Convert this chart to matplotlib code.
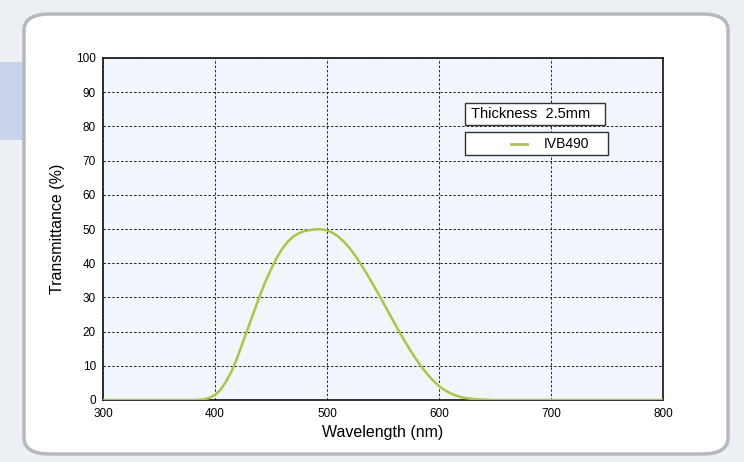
import matplotlib.pyplot as plt
from matplotlib.patches import FancyBboxPatch, Rectangle
from matplotlib.lines import Line2D

plt.rcParams["font.family"] = ["Liberation Sans", "DejaVu Sans"]

wavelength = [300, 380, 385, 390, 395, 400, 405, 410, 415, 420, 425, 430, 435, 440, 445,
              450, 455, 460, 465, 470, 475, 480, 485, 490, 495, 500, 505, 510, 515, 520,
              525, 530, 535, 540, 545, 550, 555, 560, 565, 570, 575, 580, 585, 590, 595,
              600, 605, 610, 615, 620, 625, 630, 640, 650, 700, 800]
transmittance = [0, 0, 0.05, 0.2, 0.6, 1.5, 3, 5.5, 8.5, 12.5, 17, 21.5, 26, 30.5, 34.6,
                 38.2, 41.5, 44.2, 46.3, 47.8, 48.8, 49.4, 49.7, 49.9, 49.9, 49.6, 48.9, 47.8, 46.3, 44.5,
                 42.3, 39.8, 37.2, 34.4, 31.5, 28.6, 25.6, 22.6, 19.7, 16.9, 14.2, 11.7, 9.4, 7.4, 5.6,
                 4.1, 2.9, 2.0, 1.3, 0.8, 0.5, 0.3, 0.1, 0, 0, 0]
x_ticks = [300, 400, 500, 600, 700, 800]
y_ticks = list(range(0, 101, 10))
line_color = "#a9c83f"

fig = plt.figure(figsize=(7.44, 4.62), dpi=100)
fig.patch.set_facecolor("#eceff3")

# decorative panel and side tab, behind the axes
fig.add_artist(Rectangle((0, 1 - 140 / 462), 24 / 744, 78 / 462, transform=fig.transFigure,
                         facecolor="#c9d3ea", edgecolor="none", zorder=-2))
fig.add_artist(FancyBboxPatch((24 / 744, 8 / 462), 704 / 744, 440 / 462,
                              boxstyle="round,pad=0,rounding_size=0.035",
                              transform=fig.transFigure, facecolor="white",
                              edgecolor="#b5b8bd", linewidth=2.5, zorder=-1))

ax = fig.add_axes([103 / 744, 1 - 400 / 462, 560 / 744, 342 / 462])
ax.set_facecolor("#f1f6fc")
ax.plot(wavelength, transmittance, color=line_color, linewidth=1.8, zorder=3)

ax.set_xlim(300, 800)
ax.set_ylim(0, 100)
ax.set_xticks(x_ticks)
ax.set_yticks(y_ticks)
ax.tick_params(length=0, labelsize=8.5)
ax.tick_params(axis="x", pad=6)
ax.tick_params(axis="y", pad=5)
ax.grid(True, color="#222222", linestyle=(0, (2.5, 2)), linewidth=0.7)
for spine in ax.spines.values():
    spine.set_linewidth(1.3)
    spine.set_color("#222222")

ax.set_xlabel("Wavelength (nm)", fontsize=11.5, labelpad=3)
ax.set_ylabel("Transmittance (%)", fontsize=11.5, labelpad=8)

# legend boxes
ax.add_patch(Rectangle((0.646, 0.804), 0.25, 0.064, transform=ax.transAxes,
                       facecolor="white", edgecolor="#333333", linewidth=1, zorder=4))
ax.text(0.657, 0.836, "Thickness  2.5mm", transform=ax.transAxes, fontsize=10.5,
        va="center", ha="left", zorder=5)
ax.add_patch(Rectangle((0.646, 0.715), 0.255, 0.068, transform=ax.transAxes,
                       facecolor="white", edgecolor="#333333", linewidth=1, zorder=4))
ax.add_line(Line2D([0.728, 0.757], [0.749, 0.749], transform=ax.transAxes,
                   color=line_color, linewidth=2, zorder=5))
ax.text(0.787, 0.749, "IVB490", transform=ax.transAxes, fontsize=10,
        va="center", ha="left", zorder=5)

fig.savefig("out.png", dpi=100)
